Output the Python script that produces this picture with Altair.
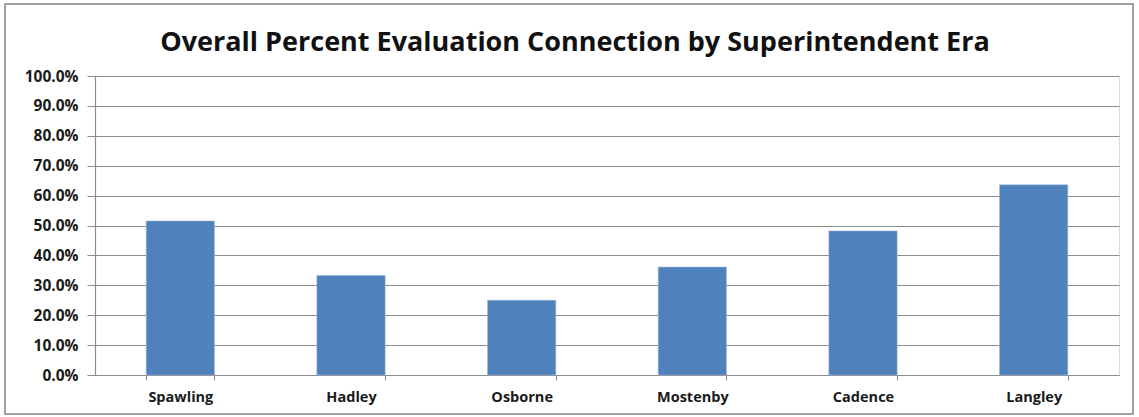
import altair as alt
import pandas as pd

eras = ["Spawling", "Hadley", "Osborne", "Mostenby", "Cadence", "Langley"]
values = [0.515, 0.333, 0.25, 0.361, 0.482, 0.636]
y_ticks = [0.0, 0.1, 0.2, 0.3, 0.4, 0.5, 0.6, 0.7, 0.8, 0.9, 1.0]
title_text = "Overall Percent Evaluation Connection by Superintendent Era"

df = pd.DataFrame({"era": eras, "value": values})

FONT = "Open Sans"
GRID = "#8c8c8c"

bars = alt.Chart(df).mark_bar(color="#4F81BD", stroke="#9db7da", strokeWidth=0.6).encode(
    x=alt.X("era:N", sort=eras, title=None,
            scale=alt.Scale(paddingInner=0.6, paddingOuter=0.3),
            axis=alt.Axis(labelAngle=0, labelFont=FONT, labelFontSize=14.5, labelFontWeight="bold",
                          labelColor="#1a1a1a", labelPadding=10, tickBand="extent", tickSize=5,
                          tickColor=GRID, domainColor=GRID, domainWidth=1.2, grid=False)),
    y=alt.Y("value:Q", title=None,
            scale=alt.Scale(domain=[0, 1], nice=False),
            axis=alt.Axis(format=".1%", values=y_ticks, labelOverlap=False,
                          labelFont=FONT, labelFontSize=15.5, labelFontWeight="bold",
                          labelColor="#1a1a1a", labelPadding=9, tickSize=8,
                          tickColor=GRID, domainColor=GRID, domainWidth=1.2,
                          gridColor=GRID, gridWidth=1.2)),
)

border = alt.Chart(df).mark_rect(fill=None, stroke="#a0a0a0", strokeWidth=1.5).encode(
    x=alt.value(-90), x2=alt.value(1038), y=alt.value(-72), y2=alt.value(338)
)

title = alt.Chart(pd.DataFrame({"t": [title_text]})).mark_text(
    font=FONT, fontSize=27, fontWeight="bold", color="#111111",
    align="center", baseline="alphabetic"
).encode(text="t:N", x=alt.value(480), y=alt.value(-25))

chart = alt.layer(border, bars, title).properties(
    width=1024, height=299,
    autosize=alt.AutoSizeParams(type="none"),
    padding={"left": 95, "top": 76, "right": 20, "bottom": 42},
).configure_view(stroke=None).configure(background="white")

chart.save("out.html", embed_options={"renderer": "svg", "actions": False})
